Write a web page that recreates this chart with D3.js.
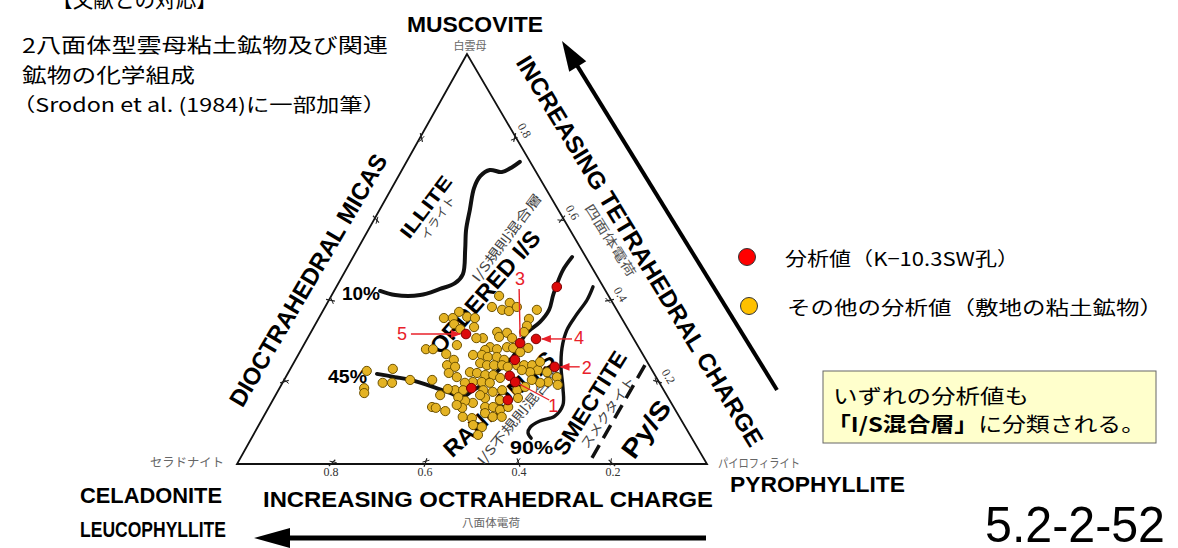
<!DOCTYPE html>
<html><head><meta charset="utf-8">
<script src="https://cdn.jsdelivr.net/npm/d3@7"></script>
<style>html,body{margin:0;padding:0;background:#fff;overflow:hidden}</style>
</head><body><svg id="c" width="1178" height="548"></svg>
<script>
// ---------- DATA ----------
// axis ticks (charge per half unit cell)
const sideTicks = [0.2, 0.4, 0.6, 0.8];
const sideTickLabels = ["0.2", "0.4", "0.6", "0.8"];

// other analysed values (site clay minerals): tetrahedral / octahedral charge
const otherTet = [.410,.383,.376,.393,.373,.383,.376,.354,.337,.322,.356,.356,.341,.329,.359,.356,.334,.280,.280,.268,
  .254,.241,.237,.222,.212,.322,.320,.310,.307,.307,.285,.280,.285,.283,.307,.278,.266,.266,.261,.261,
  .254,.246,.241,.241,.241,.237,.241,.241,.241,.229,.224,.229,.224,.200,.212,.193,.198,.224,.222,.217,
  .217,.210,.200,.200,.198,.198,.180,.180,.180,.176,.180,.180,.161,.161,.156,.149,.154,.139,.139,.132,
  .139,.115,.112,.124,.115,.115,.095,.090,.071,.137,.139,.137,.129,.227,.185,.173,.232,.198,.198,.205,
  .205,.168,.183,.371,.290,.163,.144,.283,.249,.273,.188,.205,.168];
const otherOct = [.233,.262,.244,.219,.231,.209,.170,.198,.211,.225,.378,.359,.364,.357,.327,.312,.325,.455,.440,.418,
  .409,.430,.415,.436,.424,.282,.262,.284,.320,.334,.316,.304,.280,.268,.258,.330,.362,.343,.333,.314,
  .302,.357,.345,.330,.313,.303,.281,.266,.249,.243,.262,.277,.226,.236,.211,.219,.254,.390,.376,.361,
  .344,.333,.396,.377,.361,.414,.444,.427,.384,.366,.344,.312,.320,.390,.361,.422,.436,.401,.384,.373,
  .352,.461,.443,.409,.397,.378,.449,.433,.451,.451,.514,.507,.491,.608,.635,.641,.550,.589,.569,.527,
  .480,.482,.458,.338,.384,.446,.459,.236,.228,.258,.291,.268,.397];

// analysed values (borehole K-10.3SW)
const wellTet = [.432,.317,.305,.295,.254,.237,.215,.200,.185,.156];
const wellOct = [.099,.351,.208,.247,.279,.203,.310,.306,.407,.344];
const wellLabels = ["", "5", "4", "3", "", "2", "", "1", "", ""];

// field boundaries
const illiteTet = [.422,.412,.412,.427,.441,.463,.522,.571,.620,.673,.702,.717,.712,.724,.737];
const illiteOct = [.480,.453,.400,.350,.311,.283,.248,.221,.188,.152,.124,.096,.073,.045,.022];
const orderedTet = [.220,.212,.205,.188,.173,.163,.178,.202,.232,.261,.295,.320,.346,.376,.412,.439,.473,.505];
const orderedOct = [.590,.556,.527,.487,.458,.438,.409,.365,.322,.280,.247,.220,.179,.144,.117,.095,.065,.029];
const smectiteTet = [.432,.400,.363,.327,.283,.234,.185,.144,.117,.105,.090,.076,.063];
const smectiteOct = [.022,.051,.093,.131,.164,.191,.212,.233,.264,.302,.330,.342,.342];
const pysTet = [.241,.015];
const pysOct = [.009,.237];

// ---------- SCALES ----------
const svg = d3.select("#c");
const yT = d3.scaleLinear().domain([0, 1]).range([464, 54]);   // tetrahedral charge -> y
const xO = d3.scaleLinear().domain([0, 1]).range([707, 237]);  // octahedral charge -> x
const xT = d3.scaleLinear().domain([0, 1]).range([0, -240]);   // tetrahedral shear
const P = (t, o) => [xO(o) + xT(t), yT(t)];

const JP = "'Noto Sans CJK JP','Noto Sans',sans-serif";
const LAT = "'Liberation Sans',Arial,sans-serif";

function txt(x, y, s, o = {}) {
  const t = svg.append("text").attr("x", x).attr("y", y).text(s)
    .attr("font-family", o.family || LAT).attr("font-size", o.size || 14)
    .attr("fill", o.fill || "#000");
  if (o.weight) t.attr("font-weight", o.weight);
  if (o.anchor) t.attr("text-anchor", o.anchor);
  if (o.len) t.attr("textLength", o.len).attr("lengthAdjust", "spacingAndGlyphs");
  if (o.baseline) t.attr("dominant-baseline", o.baseline);
  if (o.rot !== undefined) t.attr("transform", `rotate(${o.rot},${x},${y})`);
  return t;
}
function rtxt(cx, cy, ang, s, o) {
  return txt(cx, cy, s, Object.assign({anchor: "middle", baseline: "central", rot: ang}, o));
}

// markers
const defs = svg.append("defs");
defs.append("marker").attr("id", "rh").attr("viewBox", "0 0 10 10").attr("refX", 9).attr("refY", 5)
  .attr("markerWidth", 7).attr("markerHeight", 7).attr("orient", "auto")
  .append("path").attr("d", "M0,1 L10,5 L0,9 z").attr("fill", "#e8202a");

// ---------- TRIANGLE ----------
const A = P(1, 0), C = P(0, 1), Py = P(0, 0);
svg.append("path").attr("d", d3.line()([A, C, Py]) + "Z")
  .attr("fill", "none").attr("stroke", "#111").attr("stroke-width", 1.8);

const cen = [(A[0] + C[0] + Py[0]) / 3, (A[1] + C[1] + Py[1]) / 3];
function tick(p) {
  const g = svg.append("g").attr("stroke", "#222").attr("stroke-width", 1.2);
  const dx = cen[0] - p[0], dy = cen[1] - p[1], L = Math.hypot(dx, dy);
  const nx = dx / L, ny = dy / L;
  g.append("line").attr("x1", p[0] - nx * 3).attr("y1", p[1] - ny * 3)
    .attr("x2", p[0] + nx * 6).attr("y2", p[1] + ny * 6);
  // small slanted stroke to give the "x" look of the original ticks
  const c = [p[0] + nx * 3, p[1] + ny * 3], ux = -ny, uy = nx;
  g.append("line").attr("x1", c[0] - ux * 3 - nx * 2).attr("y1", c[1] - uy * 3 - ny * 2)
    .attr("x2", c[0] + ux * 3 + nx * 2).attr("y2", c[1] + uy * 3 + ny * 2).attr("stroke-width", 1);
}
sideTicks.forEach((v, i) => {
  tick(P(0, v));          // bottom (octahedral)
  tick(P(v, 0));          // right (tetrahedral)
  tick(P(v, 1 - v));      // left (dioctahedral micas)
  const b = P(0, v);
  txt(b[0], 476, sideTickLabels[i], {family: "'Liberation Serif',serif", size: 12, anchor: "middle", fill: "#333"});
  const r = P(v, 0);
  rtxt(r[0] + 0.863 * 11, r[1] - 0.505 * 11, 59.7, sideTickLabels[i], {family: "'Liberation Serif',serif", size: 12, fill: "#333"});
});

// ---------- BOUNDARY CURVES ----------
const curve = d3.line().x(d => P(d[0], d[1])[0]).y(d => P(d[0], d[1])[1]).curve(d3.curveCatmullRom.alpha(0.5));
const zip = (a, b) => a.map((v, i) => [v, b[i]]);
[[illiteTet, illiteOct, 4], [orderedTet, orderedOct, 3.8], [smectiteTet, smectiteOct, 3.4]].forEach(([t, o, w]) => {
  svg.append("path").attr("d", curve(zip(t, o))).attr("fill", "none").attr("stroke", "#111")
    .attr("stroke-width", w).attr("stroke-linecap", "round").attr("stroke-linejoin", "round");
});
svg.append("path").attr("d", d3.line()(zip(pysTet, pysOct).map(d => P(d[0], d[1]))))
  .attr("stroke", "#111").attr("stroke-width", 3.5).attr("stroke-dasharray", "15,8").attr("fill", "none");

// ---------- LABELS IN / AROUND TRIANGLE ----------
txt(475, 32, "MUSCOVITE", {size: 22, weight: "bold", anchor: "middle", len: 136});
txt(470, 50, "白雲母", {family: JP, size: 11, anchor: "middle", fill: "#666"});
rtxt(308, 280, -59.6, "DIOCTRAHEDRAL MICAS", {size: 24, weight: "bold", len: 288});
rtxt(640, 251, 58.7, "INCREASING TETRAHEDRAL CHARGE", {size: 24, weight: "bold", len: 452});
rtxt(611, 240, 57.7, "四面体電荷", {family: JP, size: 13, fill: "#555", len: 83});
rtxt(426, 207, -53, "ILLITE", {size: 19, weight: "bold", len: 73});
rtxt(437, 217, -55, "イライト", {family: JP, size: 12, fill: "#444", len: 50});
rtxt(506, 237, -53, "I/S規則混合層", {family: JP, size: 13, fill: "#444", len: 106});
rtxt(485, 292, -49, "ORDERED I/S", {size: 23, weight: "bold", len: 155});
rtxt(499, 404, -43, "RANDOM I/S", {size: 23, weight: "bold", len: 143});
rtxt(518, 415, -50.5, "I/S不規則混合層", {family: JP, size: 13, fill: "#444", len: 122});
rtxt(590, 403, -57.7, "SMECTITE", {size: 22, weight: "bold", len: 118});
rtxt(607, 412, -55, "スメクタイト", {family: JP, size: 13, fill: "#444", len: 84});
rtxt(646, 429, -54, "Py/S", {size: 26, weight: "bold", len: 65});
txt(342, 300, "10%", {size: 18, weight: "bold", len: 38});
txt(328, 383, "45%", {size: 18, weight: "bold", len: 39});
txt(510, 454, "90%", {size: 19, weight: "bold", len: 43});

txt(224, 467, "セラドナイト", {family: JP, size: 12, anchor: "end", fill: "#666", len: 74});
txt(718, 468, "パイロフィライト", {family: JP, size: 12, fill: "#666", len: 82});
txt(80, 503, "CELADONITE", {size: 22, weight: "bold", len: 142});
txt(80, 537, "LEUCOPHYLLITE", {size: 22, weight: "bold", len: 146});
txt(730, 492, "PYROPHYLLITE", {size: 22, weight: "bold", len: 175});
txt(263, 507, "INCREASING OCTRAHEDRAL CHARGE", {size: 22, weight: "bold", len: 450});
txt(491, 527, "八面体電荷", {family: JP, size: 11, anchor: "middle", fill: "#666", len: 58});

// arrows
function arrow(x1, y1, x2, y2, w, hl, hw) {
  const dx = x2 - x1, dy = y2 - y1, L = Math.hypot(dx, dy), ux = dx / L, uy = dy / L;
  const bx = x2 - ux * hl, by = y2 - uy * hl;
  svg.append("line").attr("x1", x1).attr("y1", y1).attr("x2", bx + ux * 2).attr("y2", by + uy * 2)
    .attr("stroke", "#000").attr("stroke-width", w);
  svg.append("path").attr("d", `M${x2},${y2}L${bx - uy * hw},${by + ux * hw}L${bx + uy * hw},${by - ux * hw}Z`).attr("fill", "#000");
}
arrow(777, 390, 562, 41, 4, 30, 10);
arrow(706, 538, 254, 538, 5, 36, 10);

// ---------- POINTS ----------
svg.append("g").selectAll("circle").data(zip(otherTet, otherOct)).join("circle")
  .attr("cx", d => P(d[0], d[1])[0]).attr("cy", d => P(d[0], d[1])[1]).attr("r", 4.6)
  .attr("fill", "#e4b324").attr("stroke", "#6e5200").attr("stroke-width", 1);
svg.append("g").selectAll("circle").data(zip(wellTet, wellOct)).join("circle")
  .attr("cx", d => P(d[0], d[1])[0]).attr("cy", d => P(d[0], d[1])[1]).attr("r", 4.8)
  .attr("fill", "#dc0a0a").attr("stroke", "#7a0000").attr("stroke-width", 1);

// annotation layout for numbered analysed values
const annot = {
  "5": {lx: -64, ly: 0, a: [-55, 0, -6, 0], head: true},
  "4": {lx: 43, ly: -1, a: [36, 0, 6, 0], head: true},
  "3": {lx: 0, ly: -64, a: [-1, -54, 0, -6], head: false},
  "2": {lx: 32, ly: 1, a: [25, 0, 6, 0], head: true},
  "1": {lx: 38, ly: 24, a: [34, 18, 4, 2], head: false}
};
wellLabels.forEach((lab, i) => {
  if (!lab) return;
  const p = P(wellTet[i], wellOct[i]), s = annot[lab];
  const l = svg.append("line").attr("x1", p[0] + s.a[0]).attr("y1", p[1] + s.a[1])
    .attr("x2", p[0] + s.a[2]).attr("y2", p[1] + s.a[3]).attr("stroke", "#e8202a").attr("stroke-width", 1.4);
  if (s.head) l.attr("marker-end", "url(#rh)");
  txt(p[0] + s.lx, p[1] + s.ly, lab, {size: 18, anchor: "middle", baseline: "central", fill: "#e8202a"});
});

// ---------- TITLE / LEGEND / NOTE ----------
txt(52, 7, "【文献との対応】", {family: JP, size: 21, len: 165});
txt(22, 53, "2八面体型雲母粘土鉱物及び関連", {family: JP, size: 20, len: 366});
txt(22, 83, "鉱物の化学組成", {family: JP, size: 20, len: 173});
txt(12, 112, "（Srodon et al. (1984)に一部加筆）", {family: JP, size: 19, len: 374});

svg.append("circle").attr("cx", 747).attr("cy", 257).attr("r", 8.5).attr("fill", "#ff0000").attr("stroke", "#333").attr("stroke-width", 1);
svg.append("circle").attr("cx", 749).attr("cy", 306).attr("r", 8.5).attr("fill", "#ffc000").attr("stroke", "#333").attr("stroke-width", 1);
txt(785, 266, "分析値（K−10.3SW孔）", {family: JP, size: 19, len: 234});
txt(787, 315, "その他の分析値（敷地の粘土鉱物）", {family: JP, size: 19, len: 376});

svg.append("rect").attr("x", 823).attr("y", 371).attr("width", 333).attr("height", 72)
  .attr("fill", "#ffffcc").attr("stroke", "#666").attr("stroke-width", 1);
txt(833, 404, "いずれの分析値も", {family: JP, size: 20, len: 196});
const nt = txt(827, 432, "", {family: JP, size: 20, len: 318});
nt.append("tspan").attr("font-weight", "bold").text("「I/S混合層」");
nt.append("tspan").text("に分類される。");

txt(985, 542, "5.2-2-52", {size: 50, len: 180});
</script></body></html>
